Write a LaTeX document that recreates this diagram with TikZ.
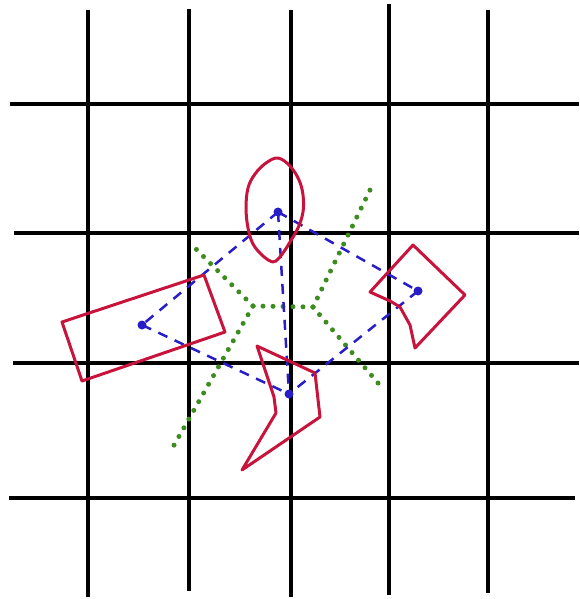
\documentclass[tikz,border=0pt]{standalone}
\begin{document}
\begin{tikzpicture}[x=1pt,y=-1pt,
  gridline/.style={line width=4.5pt,black},
  redshape/.style={line width=3pt,color={rgb,255:red,200;green,20;blue,60},line join=round},
  bdash/.style={line width=2.5pt,color={rgb,255:red,40;green,30;blue,200},dash pattern=on 10pt off 8pt},
  bdot/.style={circle,fill={rgb,255:red,40;green,30;blue,200},inner sep=0pt,minimum size=9pt},
  gdot/.style={line width=5pt,color={rgb,255:red,60;green,140;blue,30},dash pattern=on 0pt off 10pt,line cap=round}]
\useasboundingbox (0,0) rectangle (579,599);
% grid
\draw[gridline] (88,10) -- (88,597);
\draw[gridline] (189,9) -- (189,591);
\draw[gridline] (291,10) -- (291,597);
\draw[gridline] (389,4) -- (389,595);
\draw[gridline] (488,10) -- (488,593);
\draw[gridline] (10,104) -- (579,104);
\draw[gridline] (14,233) -- (579,233);
\draw[gridline] (13,363) -- (579,363);
\draw[gridline] (9,498) -- (575,498);
% green Voronoi edges
\coordinate (vl) at (253,306);
\coordinate (vr) at (313,307);
\coordinate (g1) at (190,243);
\coordinate (g2) at (173,447);
\coordinate (g3) at (371,188);
\coordinate (g4) at (378,383);
\draw[gdot] (vl) -- (vr);
\draw[gdot] (vl) -- (g1);
\draw[gdot] (vl) -- (g2);
\draw[gdot] (vr) -- (g3);
\draw[gdot] (vr) -- (g4);
% blue sites
\node[bdot] (t) at (278,212) {};
\node[bdot] (l) at (142,325) {};
\node[bdot] (r) at (418,291) {};
\node[bdot] (b) at (289,394) {};
\draw[bdash] (t.center) -- (l.center);
\draw[bdash] (t.center) -- (r.center);
\draw[bdash] (t.center) -- (b.center);
\draw[bdash] (l.center) -- (b.center);
\draw[bdash] (r.center) -- (b.center);
% red shapes
\draw[redshape] plot[smooth cycle,tension=0.6] coordinates {(278,158) (290,166) (299,180) (303,195) (303,212) (298,228) (290,242) (285,250) (279,258) (273,262) (263,256) (253,244) (248,228) (246,208) (248,188) (255,174) (266,163)};
\draw[redshape] (62,322) -- (204,275) -- (225,332) -- (82,381) -- cycle;
\draw[redshape] (370,292) -- (413,245) -- (465,295) -- (415,348) -- (410,325) -- (400,307) -- (390,301) -- cycle;
\draw[redshape] (257,346) -- (315,373) -- (320,417) -- (242,470) -- (276,413) -- (274,397) -- cycle;
\end{tikzpicture}
\end{document}
